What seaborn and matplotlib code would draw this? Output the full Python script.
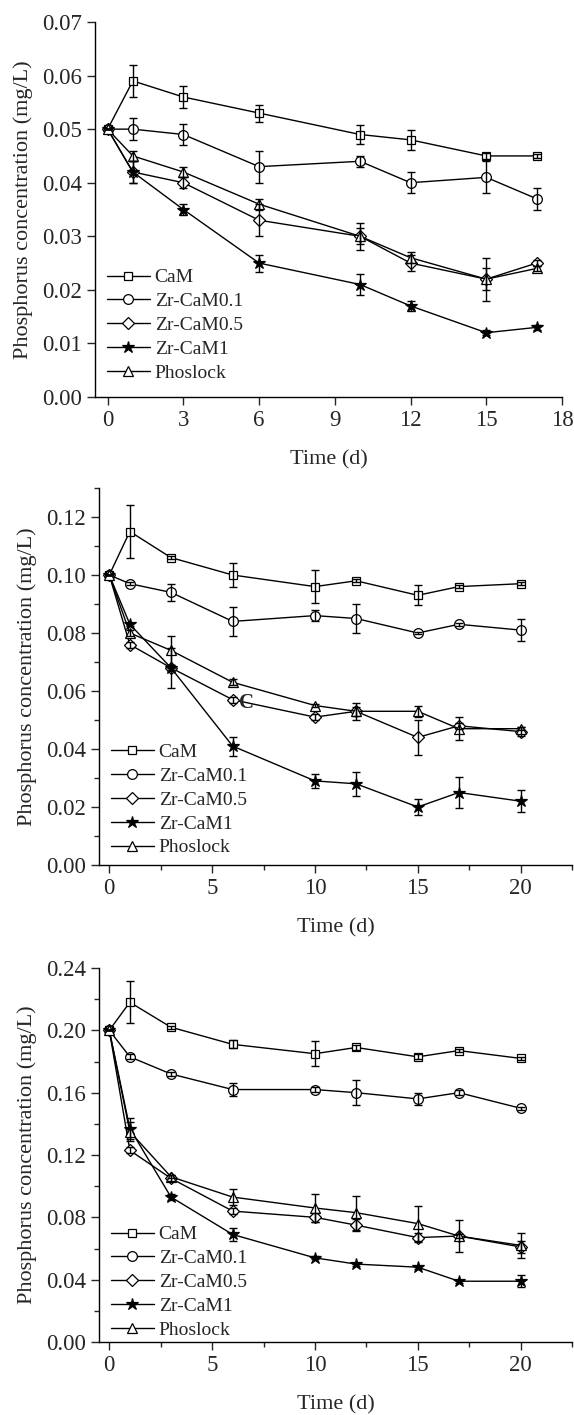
import numpy as np
import pandas as pd
import seaborn as sns
import matplotlib
matplotlib.use("Agg")
import matplotlib.pyplot as plt
from matplotlib.ticker import MultipleLocator, FormatStrFormatter

# ---- data ----
names = ['CaM', 'Zr-CaM0.1', 'Zr-CaM0.5', 'Zr-CaM1', 'Phoslock']

t1 = [0, 1, 3, 6, 10, 12, 15, 17]
cam_1 = [0.050, 0.059, 0.056, 0.053, 0.049, 0.048, 0.045, 0.045]
zr01_1 = [0.050, 0.050, 0.049, 0.043, 0.044, 0.040, 0.041, 0.037]
zr05_1 = [0.050, 0.042, 0.040, 0.033, 0.030, 0.025, 0.022, 0.025]
zr1_1 = [0.050, 0.042, 0.035, 0.025, 0.021, 0.017, 0.012, 0.013]
pho_1 = [0.050, 0.045, 0.042, 0.036, 0.030, 0.026, 0.022, 0.024]
cam_1_err = [0.0, 0.003, 0.002, 0.0016, 0.0017, 0.0018, 0.0005, 0.0004]
zr01_1_err = [0.0, 0.002, 0.002, 0.003, 0.001, 0.002, 0.003, 0.002]
zr05_1_err = [0.0, 0.002, 0.001, 0.003, 0.0015, 0.0015, 0.002, 0.0005]
zr1_1_err = [0.0, 0.002, 0.001, 0.0016, 0.002, 0.001, 0.0005, 0.0004]
pho_1_err = [0.0, 0.001, 0.001, 0.001, 0.0025, 0.001, 0.004, 0.0005]

t2 = [0, 1, 3, 6, 10, 12, 15, 17, 20]
cam_2 = [0.100, 0.115, 0.106, 0.100, 0.096, 0.098, 0.093, 0.096, 0.097]
zr01_2 = [0.100, 0.097, 0.094, 0.084, 0.086, 0.085, 0.080, 0.083, 0.081]
zr05_2 = [0.100, 0.076, 0.068, 0.057, 0.051, 0.053, 0.044, 0.048, 0.046]
zr1_2 = [0.100, 0.083, 0.068, 0.041, 0.029, 0.028, 0.020, 0.025, 0.022]
pho_2 = [0.100, 0.080, 0.074, 0.063, 0.055, 0.053, 0.053, 0.047, 0.047]
cam_2_err = [0.0, 0.009, 0.0005, 0.004, 0.0056, 0.0005, 0.0034, 0.0005, 0.0005]
zr01_2_err = [0.0, 0.0005, 0.003, 0.005, 0.002, 0.005, 0.0005, 0.0005, 0.0037]
zr05_2_err = [0.0, 0.001, 0.001, 0.001, 0.001, 0.0015, 0.006, 0.001, 0.0015]
zr1_2_err = [0.0, 0.0005, 0.007, 0.0033, 0.0025, 0.0042, 0.0027, 0.0054, 0.0038]
pho_2_err = [0.0, 0.001, 0.005, 0.001, 0.0005, 0.003, 0.002, 0.004, 0.0005]

t3 = [0, 1, 3, 6, 10, 12, 15, 17, 20]
cam_3 = [0.200, 0.218, 0.202, 0.191, 0.185, 0.189, 0.183, 0.187, 0.182]
zr01_3 = [0.200, 0.183, 0.172, 0.162, 0.162, 0.160, 0.156, 0.160, 0.150]
zr05_3 = [0.200, 0.123, 0.105, 0.084, 0.080, 0.075, 0.067, 0.068, 0.061]
zr1_3 = [0.200, 0.137, 0.093, 0.069, 0.054, 0.050, 0.048, 0.039, 0.039]
pho_3 = [0.200, 0.135, 0.106, 0.093, 0.086, 0.083, 0.076, 0.068, 0.062]
cam_3_err = [0.0, 0.0135, 0.001, 0.0025, 0.008, 0.0015, 0.0015, 0.001, 0.001]
zr01_3_err = [0.0, 0.0015, 0.0015, 0.004, 0.0015, 0.008, 0.004, 0.0015, 0.001]
zr05_3_err = [0.0, 0.002, 0.002, 0.002, 0.003, 0.004, 0.003, 0.001, 0.004]
zr1_3_err = [0.0, 0.007, 0.002, 0.004, 0.001, 0.001, 0.001, 0.001, 0.004]
pho_3_err = [0.0, 0.006, 0.001, 0.005, 0.009, 0.011, 0.011, 0.010, 0.008]

markers = ['s', 'o', 'D', '*', '^']
sizes = [6, 7, 6, 9, 7]
faces = ['white', 'white', 'white', 'black', 'white']

sns.set_style("ticks")
plt.rcParams['font.family'] = ['Liberation Serif', 'DejaVu Serif']

fig = plt.figure(figsize=(5.74, 14.15), dpi=100)

panels = [
    dict(rect=[95/574, 1-397/1415, 467/574, 375/1415], t=t1,
         vals=[cam_1, zr01_1, zr05_1, zr1_1, pho_1],
         errs=[cam_1_err, zr01_1_err, zr05_1_err, zr1_1_err, pho_1_err],
         xlim=(-0.5, 18), xmaj=3, xmin=None, ylim=(0, 0.07), ymaj=0.01, ymin=None,
         leg_y=0.02),
    dict(rect=[99/574, 1-865/1415, 473/574, 377/1415], t=t2,
         vals=[cam_2, zr01_2, zr05_2, zr1_2, pho_2],
         errs=[cam_2_err, zr01_2_err, zr05_2_err, zr1_2_err, pho_2_err],
         xlim=(-0.5, 22.5), xmaj=5, xmin=2.5, ylim=(0, 0.13), ymaj=0.02, ymin=0.01,
         leg_y=0.002),
    dict(rect=[99/574, 1-1342/1415, 473/574, 374/1415], t=t3,
         vals=[cam_3, zr01_3, zr05_3, zr1_3, pho_3],
         errs=[cam_3_err, zr01_3_err, zr05_3_err, zr1_3_err, pho_3_err],
         xlim=(-0.5, 22.5), xmaj=5, xmin=2.5, ylim=(0, 0.24), ymaj=0.04, ymin=0.02,
         leg_y=-0.012),
]

for i, p in enumerate(panels):
    ax = fig.add_axes(p['rect'])
    for name, v, m, ms, fc in zip(names, p['vals'], markers, sizes, faces):
        df = pd.DataFrame({'t': p['t'], 'c': v})
        sns.lineplot(data=df, x='t', y='c', ax=ax, color='black', lw=1.0,
                     marker=m, markersize=ms, mfc=fc, mec='black', mew=0.9,
                     label=name, legend=False)
    for v, e in zip(p['vals'], p['errs']):
        ax.errorbar(p['t'], v, yerr=e, fmt='none', ecolor='black',
                    elinewidth=1.0, capsize=3, capthick=1.0)

    ax.set_xlim(*p['xlim'])
    ax.set_ylim(*p['ylim'])
    ax.xaxis.set_major_locator(MultipleLocator(p['xmaj']))
    ax.yaxis.set_major_locator(MultipleLocator(p['ymaj']))
    if p['xmin']:
        ax.xaxis.set_minor_locator(MultipleLocator(p['xmin']))
    if p['ymin']:
        ax.yaxis.set_minor_locator(MultipleLocator(p['ymin']))
    ax.yaxis.set_major_formatter(FormatStrFormatter('%.2f'))
    ax.tick_params(which='major', direction='out', length=6, width=1, labelsize=16.5)
    ax.tick_params(which='minor', direction='out', length=3.5, width=1)
    sns.despine(ax=ax)
    for s in ['left', 'bottom']:
        ax.spines[s].set_linewidth(1.0)
        ax.spines[s].set_color('black')

    ax.set_xlabel('Time (d)', fontsize=16, labelpad=14)
    ax.set_ylabel('Phosphorus concentration (mg/L)', fontsize=16, labelpad=6)

    h, l = ax.get_legend_handles_labels()
    ax.legend(h, l, loc='lower left', bbox_to_anchor=(0.009, p['leg_y']), frameon=False,
              fontsize=14, handlelength=2.2, handletextpad=0.25, labelspacing=0.32,
              borderaxespad=0.2, borderpad=0.2)

    if i == 1:
        ax.text(6.3, 0.056, 'C', fontsize=15, fontweight='bold', va='center', ha='left')

fig.savefig('out.png', dpi=100)
